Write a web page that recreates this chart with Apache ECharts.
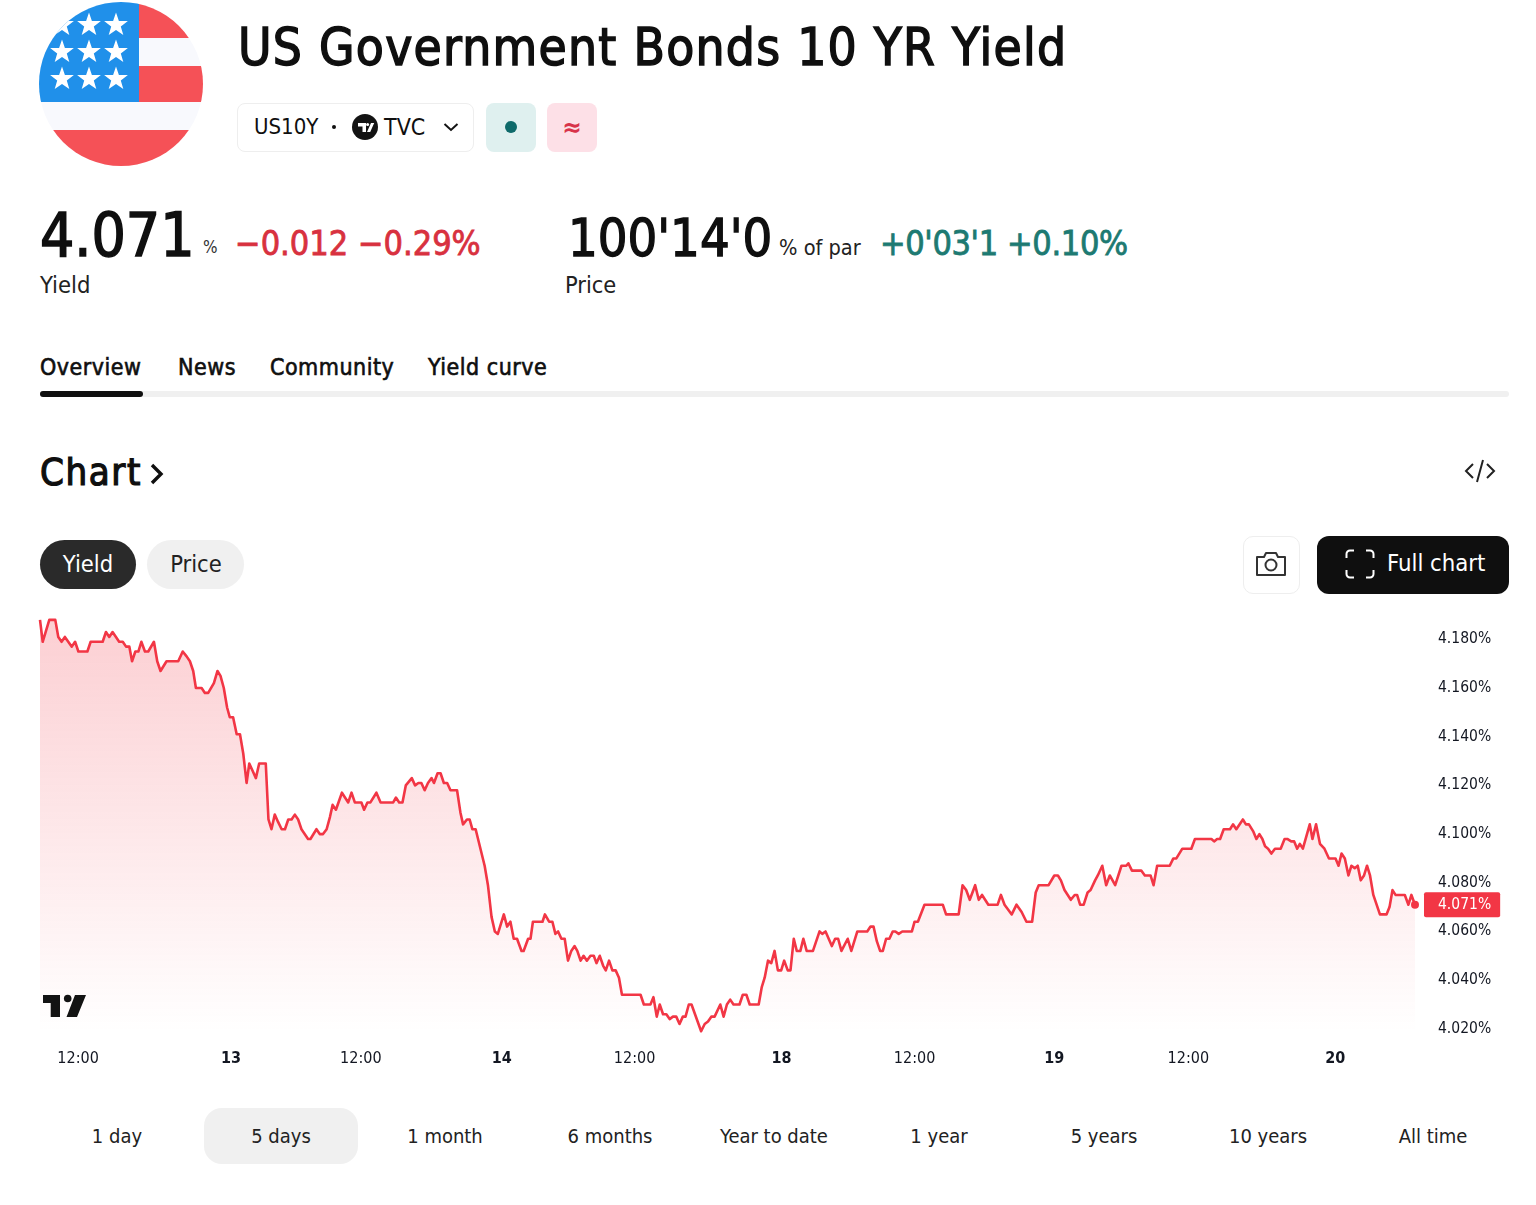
<!DOCTYPE html>
<html>

<head>
  <meta charset="utf-8" />
  <title>US10Y</title>
  <script src="https://cdn.jsdelivr.net/npm/echarts@6/dist/echarts.min.js"></script>
  <style>
    html, body { margin: 0; padding: 0; background: #fff; }
    body { width: 1536px; height: 1205px; position: relative; overflow: hidden; font-family: "DejaVu Sans Condensed", "DejaVu Sans", sans-serif; color: #0f0f0f; }
    .t { position: absolute; white-space: nowrap; line-height: 1; transform: translateY(-50%); }
    .c { transform: translate(-50%, -50%); }
    .box { position: absolute; box-sizing: border-box; }
    svg { position: absolute; overflow: visible; }
    #main { position: absolute; left: 0; top: 600px; width: 1536px; height: 480px; }
    .tab { font-size: 23px; -webkit-text-stroke: .6px #0f0f0f; letter-spacing: .5px; }
  </style>
</head>

<body>
  <!-- flag -->
  <svg style="left:0;top:0" width="240" height="170">
    <defs><clipPath id="disc"><circle cx="121" cy="84" r="82" /></clipPath></defs>
    <g clip-path="url(#disc)">
      <rect x="39" y="2" width="164" height="164" fill="#f8f9fd" />
      <rect x="139" y="2" width="64" height="36" fill="#f55157" />
      <rect x="139" y="66" width="64" height="36" fill="#f55157" />
      <rect x="39" y="130" width="164" height="36" fill="#f55157" />
      <rect x="39" y="2" width="100" height="100" fill="#2090ea" />
      <g fill="#fff" id="stars"></g>
    </g>
  </svg>

  <div class="t" style="left:238px;top:47px;font-size:51px;-webkit-text-stroke:1.400px #0f0f0f;letter-spacing:1.250px">US Government Bonds 10 YR Yield</div>

  <!-- symbol chip -->
  <div class="box" style="left:237px;top:103px;width:237px;height:49px;border:1px solid #eeeeee;border-radius:8px"></div>
  <div class="t" style="left:254px;top:127px;font-size:22px">US10Y</div>
  <div class="box" style="left:332px;top:125px;width:4px;height:4px;border-radius:50%;background:#0f0f0f"></div>
  <div class="box" style="left:352px;top:114px;width:26px;height:26px;border-radius:50%;background:#131313"></div>
  <svg style="left:352px;top:114px" width="26" height="26"><path d="M6 9h8v9h-3.500v-5.500H6zM15 18l4-9h3.200l-4 9z" fill="#fff" /><circle cx="15.600" cy="10.500" r="1.500" fill="#fff" /></svg>
  <div class="t" style="left:384px;top:127px;font-size:23px">TVC</div>
  <svg style="left:443px;top:122px" width="16" height="10"><path d="M1.500 2l6.500 6 6.500-6" fill="none" stroke="#131313" stroke-width="2" /></svg>
  <div class="box" style="left:486px;top:103px;width:50px;height:49px;border-radius:8px;background:#dff0ef"></div>
  <div class="box" style="left:505px;top:121px;width:12px;height:12px;border-radius:50%;background:#0e6a6a"></div>
  <div class="box" style="left:547px;top:103px;width:50px;height:49px;border-radius:8px;background:#fde0e7"></div>
  <div class="t c" style="left:572px;top:127px;font-size:26px;font-weight:700;color:#d8334a">≈</div>

  <!-- quote -->
  <div class="t" style="left:40px;top:235px;font-size:60px;-webkit-text-stroke:1.500px #0f0f0f">4.071</div>
  <div class="t" style="left:203px;top:247px;font-size:17px;color:#333">%</div>
  <div class="t" style="left:235px;top:243px;font-size:34px;-webkit-text-stroke:.8px #d8313f;color:#d8313f">−0.012 −0.29%</div>
  <div class="t" style="left:40px;top:286px;font-size:23.600px;color:#222">Yield</div>
  <div class="t" style="left:568px;top:238px;font-size:52px;-webkit-text-stroke:1.300px #0f0f0f">100'14'0</div>
  <div class="t" style="left:779px;top:248px;font-size:21.600px;color:#222">% of par</div>
  <div class="t" style="left:880px;top:243px;font-size:34px;-webkit-text-stroke:.8px #1d7a72;color:#1d7a72;letter-spacing:-.36px">+0'03'1 +0.10%</div>
  <div class="t" style="left:565px;top:286px;font-size:23.400px;color:#222">Price</div>

  <!-- tabs -->
  <div class="t tab" style="left:40px;top:367px">Overview</div>
  <div class="t tab" style="left:178px;top:367px">News</div>
  <div class="t tab" style="left:270px;top:367px">Community</div>
  <div class="t tab" style="left:428px;top:367px">Yield curve</div>
  <div class="box" style="left:40px;top:391px;width:1469px;height:6px;border-radius:3px;background:#f0f0f0"></div>
  <div class="box" style="left:40px;top:391px;width:103px;height:6px;border-radius:3px;background:#0f0f0f"></div>

  <div class="t" style="left:40px;top:472px;font-size:38px;-webkit-text-stroke:1.200px #0f0f0f;letter-spacing:1.600px">Chart</div>
  <svg style="left:150px;top:463px" width="14" height="22"><path d="M2 2l9 9-9 9" fill="none" stroke="#0f0f0f" stroke-width="3.400" /></svg>
  <svg style="left:1465px;top:458px" width="30" height="26"><path d="M8 6l-7 7 7 7M22 6l7 7-7 7M18 2l-6 22" fill="none" stroke="#222" stroke-width="2" /></svg>

  <!-- pills -->
  <div class="box" style="left:40px;top:540px;width:96px;height:49px;border-radius:25px;background:#2a2a2a"></div>
  <div class="t c" style="left:88px;top:565px;font-size:23.500px;color:#fff">Yield</div>
  <div class="box" style="left:147px;top:540px;width:97px;height:49px;border-radius:25px;background:#f0f0f0"></div>
  <div class="t c" style="left:196px;top:565px;font-size:23.500px;color:#222">Price</div>
  <div class="box" style="left:1243px;top:536px;width:57px;height:58px;border:1px solid #eeeeee;border-radius:10px"></div>
  <svg style="left:1255px;top:550px" width="32" height="28"><path d="M2 7h7l2-4h10l2 4h7v18H2z" fill="none" stroke="#333" stroke-width="2" stroke-linejoin="round" /><circle cx="16" cy="15" r="5.500" fill="none" stroke="#333" stroke-width="2" /></svg>
  <div class="box" style="left:1317px;top:536px;width:192px;height:58px;border-radius:12px;background:#0f0f0f"></div>
  <svg style="left:1345px;top:549px" width="30" height="30"><path d="M9 1.500H5a3.500 3.500 0 0 0-3.500 3.500v4M21 1.500h4a3.500 3.500 0 0 1 3.500 3.500v4M9 28.500H5a3.500 3.500 0 0 1-3.500-3.500v-4M21 28.500h4a3.500 3.500 0 0 0 3.500-3.500v-4" fill="none" stroke="#fff" stroke-width="2" /></svg>
  <div class="t" style="left:1387px;top:564px;font-size:23.700px;color:#fff">Full chart</div>

  <div id="main"></div>

  <!-- TradingView mark -->
  <svg style="left:0;top:0" width="100" height="1030">
    <path d="M43 995h17v22h-9.300v-14H43zM75 995h11l-9 22H66.500z" fill="#131313" />
    <circle cx="67.700" cy="998.500" r="3.800" fill="#131313" />
  </svg>

  <!-- range buttons -->
  <div class="box" style="left:204px;top:1108px;width:154px;height:56px;border-radius:18px;background:#f0f0f0"></div>
  <div id="ranges"></div>

  <script>
    var rangeLabels = ["1 day", "5 days", "1 month", "6 months", "Year to date", "1 year", "5 years", "10 years", "All time"];
    var rangeCenters = [117, 281, 445, 610, 774, 939, 1104, 1268, 1433];

    // x position of each reading, counted in bars from the left edge
    var bars = [
      0, 0.9, 3.1, 5.1, 6.1, 7.2, 8.3, 10.6, 11.7, 12.8, 15.8, 16.9, 20.9, 22, 23.1, 24.2, 26.4, 27.6, 28.7, 29.8,
      30.7, 31.8, 32.8, 33.8, 35, 36.1, 38, 39.1, 40.2, 42.2, 46.1, 47.6, 48.9, 50, 51.1, 52, 53.9, 55, 56.1, 58,
      59.2, 60.2, 61.3, 62.4, 63.3, 64.4, 65.6, 66.7, 67.8, 68.9, 69.8, 70.9, 72, 73.1, 75.3, 76.2, 77.2, 78.3, 79.4, 80.6,
      81.7, 82.8, 83.9, 85, 86.1, 87.2, 89.4, 90.2, 92.2, 93.3, 94.4, 95.6, 96.7, 97.6, 98.7, 100.7, 102.8, 103.9, 105, 107.2,
      108.1, 109.2, 110.2, 112.2, 113.6, 117.8, 118.7, 119.8, 120.9, 122, 124, 125.1, 126.2, 127.2, 128.3, 129.4, 130.6, 131.4, 132.6, 133.6,
      134.7, 135.8, 136.9, 139.1, 140.2, 141.1, 142.4, 143.3, 144.2, 145.3, 148.3, 149.4, 150.6, 151.7, 152.7, 154.7, 155.8, 156.9, 158, 159.1,
      160.6, 161.3, 162.8, 163.6, 164.4, 167.6, 168.4, 169.8, 170.9, 171.9, 172.8, 173.9, 175, 176.1, 177.2, 178.3, 179.2, 180.3, 181.3, 182.4,
      183.6, 184.7, 185.6, 186.7, 187.8, 188.7, 189.8, 190.9, 192, 193.1, 194.1, 200.3, 201.4, 203.6, 204.6, 205.7, 206.7, 207.8, 208.9, 210,
      211.1, 212.2, 213.3, 214.4, 215.3, 216.4, 217.3, 220.5, 221.7, 222.8, 223.9, 225, 226.9, 228, 229.1, 230.2, 231.3, 233.3, 234.4, 235.6,
      236.7, 239.7, 240.7, 241.7, 242.8, 243.9, 245, 246.1, 247.2, 248.2, 249.4, 250.3, 251.4, 252.4, 253.6, 254.6, 255.7, 257.8, 260, 260.9,
      262, 264.1, 265.2, 266.2, 267.3, 269.4, 270.6, 272.6, 275.9, 277, 278, 279.1, 280.2, 281.1, 282.2, 283.3, 284.4, 285.3, 286.4, 287.6,
      290.8, 291.7, 292.8, 295, 301.1, 302.2, 306.4, 307.7, 308.9, 310.1, 311.9, 313.1, 314.2, 316.3, 319.4, 320.5, 321.7, 324.1, 325.7, 327.4,
      329, 330.9, 332.1, 333.1, 336.4, 338.3, 339.5, 340.5, 341.7, 343.8, 345.1, 345.9, 346.9, 348.1, 349.4, 350.4, 351.9, 352.8, 353.3, 354.3,
      355.6, 356.8, 357.4, 358.6, 360.7, 362.3, 363, 364.2, 367.3, 368.5, 370.4, 371.4, 372.6, 376.8, 378, 379, 381, 384, 385.2, 390.7,
      391.6, 392.6, 393.6, 394.8, 396.9, 397.9, 399, 401.2, 402.2, 403.2, 404.7, 405.7, 406.7, 407.7, 408.6, 409.6, 410.7, 411.9, 413.8, 415.1,
      416, 417.3, 418.3, 419.3, 420.2, 421.2, 423.5, 424.4, 425.6, 426.9, 428.4, 429.9, 432.1, 433.1, 434.1, 435.2, 436.4, 437.4, 438.5, 439.5,
      440.5, 441.6, 442.6, 443.6, 444.7, 446.9, 449.1, 450.1, 451.1, 452.1, 455.2, 456.4, 457.4, 458.6
    ];
    var yields = [
      4.188, 4.179, 4.188, 4.188, 4.181, 4.179, 4.181, 4.177, 4.179, 4.175, 4.175, 4.179, 4.179, 4.183, 4.181, 4.183, 4.179, 4.179, 4.177, 4.177,
      4.171, 4.175, 4.175, 4.179, 4.175, 4.175, 4.179, 4.171, 4.167, 4.171, 4.171, 4.175, 4.173, 4.171, 4.167, 4.160, 4.160, 4.158, 4.158, 4.162,
      4.167, 4.165, 4.160, 4.152, 4.148, 4.148, 4.141, 4.141, 4.133, 4.121, 4.129, 4.126, 4.123, 4.129, 4.129, 4.106, 4.102, 4.108, 4.105, 4.102,
      4.102, 4.106, 4.106, 4.108, 4.106, 4.102, 4.098, 4.098, 4.102, 4.100, 4.100, 4.102, 4.107, 4.112, 4.110, 4.117, 4.113, 4.117, 4.113, 4.113,
      4.110, 4.113, 4.113, 4.117, 4.113, 4.113, 4.115, 4.113, 4.113, 4.120, 4.123, 4.120, 4.121, 4.121, 4.118, 4.121, 4.123, 4.121, 4.125, 4.125,
      4.121, 4.121, 4.118, 4.118, 4.109, 4.104, 4.106, 4.106, 4.102, 4.102, 4.087, 4.079, 4.066, 4.060, 4.059, 4.067, 4.062, 4.064, 4.057, 4.057,
      4.052, 4.052, 4.057, 4.057, 4.064, 4.064, 4.067, 4.064, 4.064, 4.059, 4.060, 4.057, 4.057, 4.048, 4.052, 4.054, 4.052, 4.048, 4.050, 4.048,
      4.050, 4.050, 4.047, 4.050, 4.046, 4.044, 4.048, 4.044, 4.044, 4.041, 4.034, 4.034, 4.030, 4.030, 4.033, 4.025, 4.030, 4.026, 4.026, 4.024,
      4.025, 4.025, 4.022, 4.025, 4.025, 4.030, 4.030, 4.019, 4.022, 4.023, 4.025, 4.025, 4.030, 4.025, 4.030, 4.032, 4.030, 4.030, 4.034, 4.034,
      4.030, 4.030, 4.037, 4.041, 4.048, 4.047, 4.052, 4.044, 4.044, 4.048, 4.044, 4.044, 4.057, 4.052, 4.052, 4.057, 4.052, 4.052, 4.060, 4.059,
      4.060, 4.054, 4.057, 4.057, 4.052, 4.057, 4.052, 4.060, 4.060, 4.062, 4.062, 4.056, 4.052, 4.052, 4.057, 4.057, 4.060, 4.060, 4.059, 4.060,
      4.060, 4.064, 4.064, 4.071, 4.071, 4.067, 4.067, 4.079, 4.077, 4.073, 4.079, 4.073, 4.075, 4.071, 4.071, 4.075, 4.071, 4.067, 4.071, 4.068,
      4.064, 4.064, 4.076, 4.079, 4.079, 4.083, 4.083, 4.081, 4.077, 4.073, 4.075, 4.075, 4.071, 4.071, 4.076, 4.077, 4.081, 4.083, 4.083, 4.087,
      4.079, 4.083, 4.083, 4.079, 4.087, 4.087, 4.088, 4.085, 4.085, 4.083, 4.083, 4.079, 4.087, 4.087, 4.090, 4.090, 4.094, 4.094, 4.098, 4.098,
      4.097, 4.098, 4.098, 4.102, 4.102, 4.104, 4.102, 4.106, 4.104, 4.104, 4.101, 4.098, 4.100, 4.098, 4.095, 4.094, 4.092, 4.094, 4.094, 4.098,
      4.098, 4.097, 4.097, 4.094, 4.096, 4.094, 4.104, 4.098, 4.104, 4.096, 4.094, 4.090, 4.090, 4.087, 4.092, 4.090, 4.083, 4.087, 4.086, 4.087,
      4.081, 4.083, 4.087, 4.083, 4.075, 4.067, 4.067, 4.070, 4.077, 4.075, 4.075, 4.071, 4.075, 4.071
    ];

    var yTicks = [4.18, 4.16, 4.14, 4.12, 4.10, 4.08, 4.06, 4.04, 4.02];
    var lastYield = 4.071;
    var xTickBars = [12.7, 63.7, 107, 154, 198.3, 247.3, 291.7, 338.3, 383, 432];
    var xTickLabels = ["12:00", "13", "12:00", "14", "12:00", "18", "12:00", "19", "12:00", "20"];

    var ranges = document.getElementById("ranges");
    rangeLabels.forEach(function (name, i) {
      var el = document.createElement("div");
      el.className = "t c";
      el.style.cssText = "left:" + rangeCenters[i] + "px;top:1136px;font-size:20px;color:#222";
      el.textContent = name;
      ranges.appendChild(el);
    });

    // stars in the canton
    var starHtml = "";
    [[62, 25], [89, 25], [116, 25], [62, 52], [89, 52], [116, 52], [62, 79], [89, 79], [116, 79]].forEach(function (s) {
      var pts = [];
      for (var k = 0; k < 10; k++) {
        var r = k % 2 ? 5 : 12.5, a = -Math.PI / 2 + k * Math.PI / 5;
        pts.push((s[0] + r * Math.cos(a)).toFixed(1) + "," + (s[1] + r * Math.sin(a)).toFixed(1));
      }
      starHtml += '<polygon points="' + pts.join(" ") + '" />';
    });
    document.getElementById("stars").innerHTML = starHtml;

    var lineData = bars.map(function (b, i) { return [b, yields[i]]; });
    var fontName = '"DejaVu Sans Condensed", "DejaVu Sans", sans-serif';

    var chart = echarts.init(document.getElementById("main"));
    chart.setOption({
      animation: false,
      grid: { left: 40, top: 15, width: 1375, height: 426 },
      xAxis: {
        type: "value",
        min: 0,
        max: 458.6,
        splitLine: { show: false },
        axisLine: { show: false },
        axisTick: { show: false },
        axisLabel: {
          customValues: xTickBars,
          margin: 10,
          fontFamily: fontName,
          fontSize: 16,
          color: "#131722",
          formatter: function (v) {
            var s = xTickLabels[xTickBars.indexOf(v)];
            return s.indexOf(":") > 0 ? s : "{day|" + s + "}";
          },
          rich: { day: { fontFamily: fontName, fontSize: 16, fontWeight: "bold", color: "#131722" } }
        }
      },
      yAxis: {
        type: "value",
        position: "right",
        min: 4.015,
        max: 4.19,
        splitLine: { show: false },
        axisLine: { show: false },
        axisTick: { show: false },
        axisLabel: {
          customValues: yTicks.concat([lastYield]),
          margin: 9,
          formatter: function (v) {
            return (v === lastYield ? "{last|" : "{tick|") + v.toFixed(3) + "%}";
          },
          rich: {
            tick: { fontFamily: fontName, fontSize: 15.5, color: "#131722", padding: [0, 0, 0, 14] },
            last: { fontFamily: fontName, fontSize: 15.5, color: "#fff", backgroundColor: "#f23645", padding: [5, 9, 4, 14], borderRadius: 2 }
          }
        }
      },
      series: [{
        type: "line",
        data: lineData,
        symbol: "none",
        smooth: false,
        lineStyle: { color: "#f23645", width: 2.6, join: "round" },
        areaStyle: {
          origin: "start",
          color: {
            type: "linear", x: 0, y: 0, x2: 0, y2: 1,
            colorStops: [
              { offset: 0, color: "rgba(242,54,69,0.34)" },
              { offset: 0.98, color: "rgba(242,54,69,0)" },
              { offset: 1, color: "rgba(242,54,69,0)" }
            ]
          }
        },
        markPoint: {
          symbol: "circle",
          symbolSize: 8,
          silent: true,
          itemStyle: { color: "#f23645" },
          label: { show: false },
          data: [{ coord: lineData[lineData.length - 1] }]
        }
      }]
    });
  </script>
</body>

</html>
